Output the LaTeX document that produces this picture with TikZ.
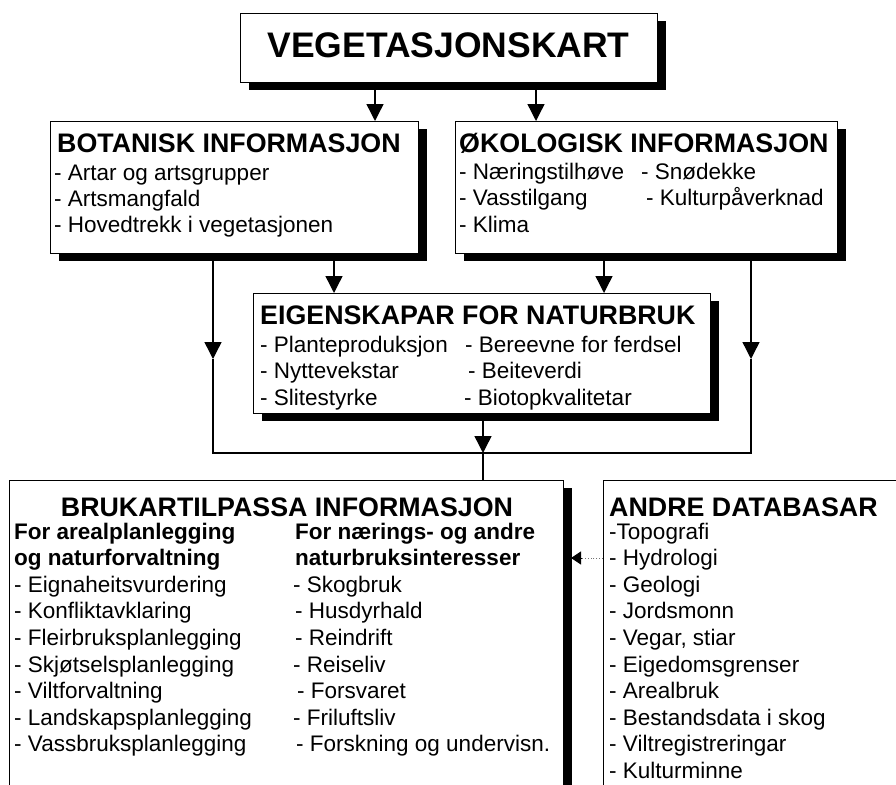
\documentclass[tikz,border=0pt]{standalone}
\usepackage{fontspec}
\setmainfont{Liberation Sans}
\usetikzlibrary{arrows.meta,shadows}
\newcommand\vkTitle{\fontsize{35.5}{40}\selectfont\bfseries}
\newcommand\vkHead{\fontsize{26.8}{30}\selectfont\bfseries}
\newcommand\vkItem{\fontsize{22.5}{26}\selectfont}
\newcommand\vkSub{\fontsize{22.5}{26}\selectfont\bfseries}
\tikzset{
  box/.style={draw=black, line width=1.3pt, fill=white, inner sep=0pt, anchor=north west,
    drop shadow={shadow xshift=8pt, shadow yshift=-7pt, fill=black, opacity=1}},
  plainbox/.style={draw=black, line width=1.3pt, fill=white, inner sep=0pt, anchor=north west},
  ttl/.style={anchor=base, inner sep=0pt, font=\vkTitle},
  hd/.style={anchor=base west, inner sep=0pt, font=\vkHead},
  hdc/.style={anchor=base, inner sep=0pt, font=\vkHead},
  it/.style={anchor=base west, inner sep=0pt, font=\vkItem},
  sb/.style={anchor=base west, inner sep=0pt, font=\vkSub},
  con/.style={line width=1.4pt},
  arr/.style={con, -{Triangle[width=17pt,length=17pt]}},
  dotline/.style={black!55, line width=0.9pt, dotted},
  dottip/.style={-{Triangle[width=13pt,length=10pt,color=black,fill=black]}, line width=0.9pt}
}
\begin{document}
\begin{tikzpicture}[x=1pt,y=-1pt]
\useasboundingbox (0,0) rectangle (896,784);
\clip (0,0) rectangle (896,784);
\fill[white] (0,0) rectangle (896,784);

% boxes
\node[box, minimum width=417pt, minimum height=69pt] (top) at (240,13) {};
\node[box, minimum width=368pt, minimum height=132pt] (bot) at (50,121) {};
\node[box, minimum width=382pt, minimum height=132pt] (eco) at (455,121) {};
\node[box, minimum width=457pt, minimum height=120pt] (eig) at (253,293) {};
\node[box, minimum width=554pt, minimum height=340pt] (bruk) at (9,480) {};
\node[plainbox, minimum width=330pt, minimum height=340pt] (andre) at (603,480) {};

% title
\node[ttl] (ttext) at (448.5,58) {VEGETASJONSKART};

% botanisk
\node[hd] (bh) at (57,152) {BOTANISK INFORMASJON};
\node[it] (b1) at (54,180) {- Artar og artsgrupper};
\node[it] (b2) at (54,206) {- Artsmangfald};
\node[it] (b3) at (54,232) {- Hovedtrekk i vegetasjonen};

% okologisk
\node[hd] (eh) at (459,152) {ØKOLOGISK INFORMASJON};
\node[it] (e1) at (459,179) {- Næringstilhøve};
\node[it] (e2) at (459,205) {- Vasstilgang};
\node[it] (e3) at (459,232) {- Klima};
\node[it] (e4) at (641,179) {- Snødekke};
\node[it] (e5) at (646,205) {- Kulturpåverknad};

% eigenskapar
\node[hd] (gh) at (260,324) {EIGENSKAPAR FOR NATURBRUK};
\node[it] (g1) at (260,352) {- Planteproduksjon};
\node[it] (g2) at (260,378) {- Nyttevekstar};
\node[it] (g3) at (260,405) {- Slitestyrke};
\node[it] (g4) at (465,352) {- Bereevne for ferdsel};
\node[it] (g5) at (468,378) {- Beiteverdi};
\node[it] (g6) at (464,405) {- Biotopkvalitetar};

% brukartilpassa
\node[hdc] (uh) at (287,516) {BRUKARTILPASSA INFORMASJON};
\node[sb] (us1) at (14,539) {For arealplanlegging};
\node[sb] (us2) at (14,565.6) {og naturforvaltning};
\node[it] (u1) at (14,592.2) {- Eignaheitsvurdering};
\node[it] (u2) at (14,618.8) {- Konfliktavklaring};
\node[it] (u3) at (14,645.4) {- Fleirbruksplanlegging};
\node[it] (u4) at (14,672) {- Skjøtselsplanlegging};
\node[it] (u5) at (14,698.6) {- Viltforvaltning};
\node[it] (u6) at (14,725.2) {- Landskapsplanlegging};
\node[it] (u7) at (14,751.8) {- Vassbruksplanlegging};
\node[sb] (vs1) at (295,539) {For nærings- og andre};
\node[sb] (vs2) at (295,565.6) {naturbruksinteresser};
\node[it] (v1) at (293,592.2) {- Skogbruk};
\node[it] (v2) at (295,618.8) {- Husdyrhald};
\node[it] (v3) at (295,645.4) {- Reindrift};
\node[it] (v4) at (293,672) {- Reiseliv};
\node[it] (v5) at (297,698.6) {- Forsvaret};
\node[it] (v6) at (293,725.2) {- Friluftsliv};
\node[it] (v7) at (296,751.8) {- Forskning og undervisn.};

% andre databasar
\node[hd] (ah) at (609,516) {ANDRE DATABASAR};
\node[it] (a1) at (609,539) {-Topografi};
\node[it] (a2) at (609,565.6) {- Hydrologi};
\node[it] (a3) at (609,592.2) {- Geologi};
\node[it] (a4) at (609,618.8) {- Jordsmonn};
\node[it] (a5) at (609,645.4) {- Vegar, stiar};
\node[it] (a6) at (609,672) {- Eigedomsgrenser};
\node[it] (a7) at (609,698.6) {- Arealbruk};
\node[it] (a8) at (609,725.2) {- Bestandsdata i skog};
\node[it] (a9) at (609,751.8) {- Viltregistreringar};
\node[it] (a10) at (609,778.4) {- Kulturminne};

% connector columns
\coordinate (cA) at (375,0);
\coordinate (cB) at (536,0);
\coordinate (cC) at (334,0);
\coordinate (cD) at (604,0);
\coordinate (cL) at (213,0);
\coordinate (cR) at (751,0);
\coordinate (cM) at (483,0);
\coordinate (tL) at (213,359);
\coordinate (tR) at (751,359);
\coordinate (kL) at (213,453);
\coordinate (kR) at (751,453);
\coordinate (tM) at (483,453);
\coordinate (h) at (0,558);
\coordinate (bs) at (571,0);
\coordinate (dt) at (581,558);

\draw[arr] (top.south -| cA) -- (bot.north -| cA);
\draw[arr] (top.south -| cB) -- (eco.north -| cB);
\draw[arr] (bot.south -| cC) -- (eig.north -| cC);
\draw[arr] (eco.south -| cD) -- (eig.north -| cD);
\draw[arr] (bot.south -| cL) -- (tL);
\draw[arr] (eco.south -| cR) -- (tR);
\draw[con] (tL) -- (kL) -- (kR) -- (tR);
\draw[arr] (eig.south -| cM) -- (tM);
\draw[con] (tM) -- (bruk.north -| cM);
\draw[dotline] (andre.west |- h) -- (dt);
\draw[dottip] (dt) -- (bs |- h);
\end{tikzpicture}
\end{document}
